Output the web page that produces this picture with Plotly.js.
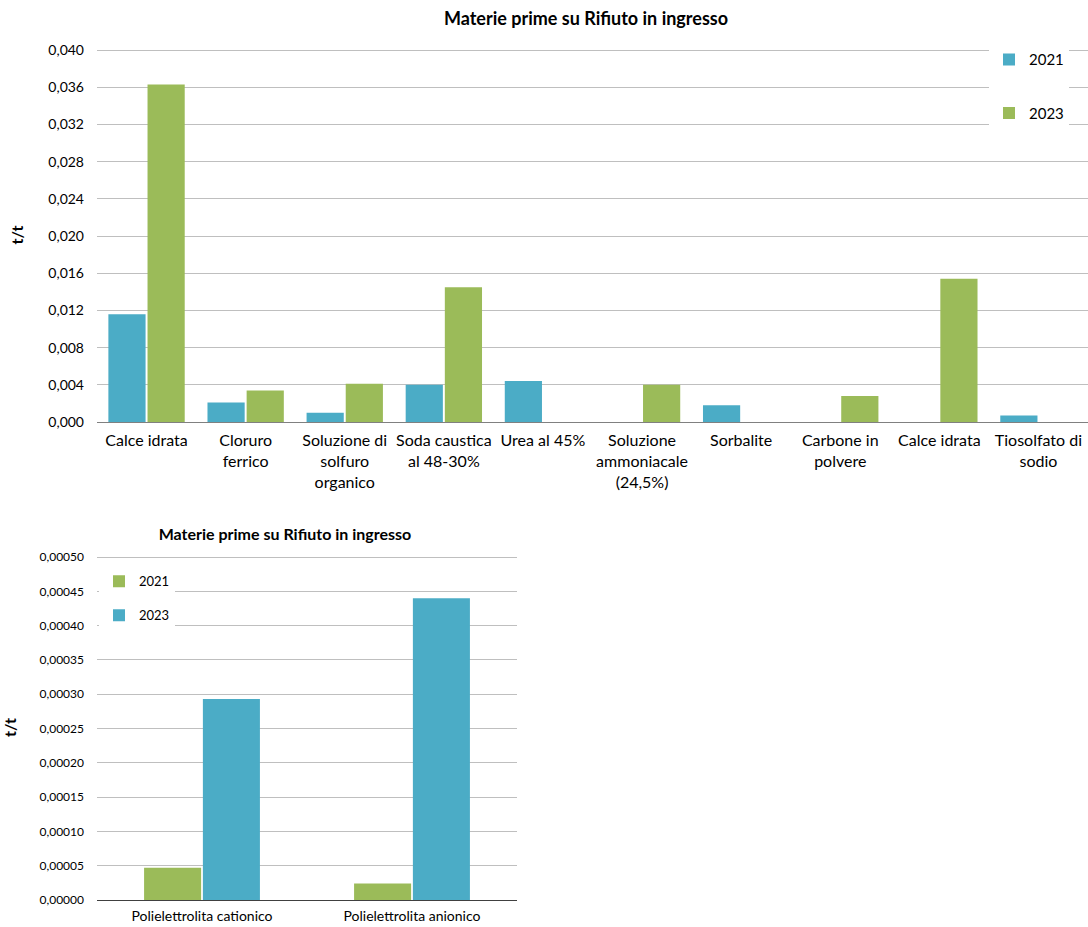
<!DOCTYPE html>
<html>
<head>
<meta charset="utf-8">
<script src="https://cdn.plot.ly/plotly-3.0.1.min.js"></script>
<style>
  html, body { margin: 0; padding: 0; background: #fff; }
  #top { position: absolute; left: 0; top: 0; width: 1088px; height: 510px; }
  #bottom { position: absolute; left: 0; top: 510px; width: 530px; height: 417px; }
</style>
</head>
<body>
<div id="top"></div>
<div id="bottom"></div>
<script>
// ---- Top chart data ----
const topCategories = [
  "Calce idrata", "Cloruro<br>ferrico", "Soluzione di<br>solfuro<br>organico",
  "Soda caustica<br>al 48-30%", "Urea al 45%", "Soluzione<br>ammoniacale<br>(24,5%)",
  "Sorbalite", "Carbone in<br>polvere", "Calce idrata", "Tiosolfato di<br>sodio"
];
const top2021 = [0.0116, 0.0021, 0.0010, 0.0040, 0.0044, null, 0.0018, null, null, 0.0007];
const top2023 = [0.0363, 0.0034, 0.0041, 0.0145, null, 0.0040, null, 0.0028, 0.0154, null];
const topTickVals = [0, 0.004, 0.008, 0.012, 0.016, 0.020, 0.024, 0.028, 0.032, 0.036, 0.040];

// ---- Bottom chart data ----
const bottomCategories = ["Polielettrolita cationico", "Polielettrolita anionico"];
const bottom2021 = [0.000047, 0.000024];
const bottom2023 = [0.000293, 0.000440];

const BLUE = "#4BACC6";
const GREEN = "#9BBB59";
const FONT = "Lato, 'Open Sans', sans-serif";

const topIdx = topCategories.map((_, i) => i);

Plotly.newPlot("top", [
  { type: "bar", name: "2021", x: topIdx, y: top2021, marker: { color: BLUE }, legendgroup: "a" },
  { type: "bar", name: "2023", x: topIdx, y: top2023, marker: { color: GREEN }, legendgroup: "b" }
], {
  width: 1088, height: 510,
  margin: { l: 97, r: 0, t: 48, b: 88 },
  paper_bgcolor: "#fff", plot_bgcolor: "#fff",
  font: { family: FONT, size: 14, color: "#000" },
  separators: ",.",
  barmode: "group", bargap: 0.21, bargroupgap: 0.05,
  title: { text: "<b>Materie prime su Rifiuto in ingresso</b>", font: { size: 18, family: FONT, color: "#000" },
           x: 586 / 1088, xanchor: "center", y: 1 - 19 / 510, yanchor: "middle" },
  xaxis: {
    tickmode: "array", tickvals: topIdx, ticktext: topCategories,
    range: [-0.5, topCategories.length - 0.5],
    showline: true, linecolor: "#808080", linewidth: 1, showgrid: false, ticks: "",
    tickfont: { size: 16 }, tickangle: 0, automargin: false, ticklabelstandoff: 4
  },
  yaxis: {
    range: [0, 0.04022], tickvals: topTickVals, tickformat: ".3f",
    showgrid: true, gridcolor: "#BFBFBF", gridwidth: 1, zeroline: false,
    ticklabelstandoff: 12, tickfont: { size: 14 }, automargin: false,
    title: { text: "<b>t/t</b>", font: { size: 16 }, standoff: 20 }
  },
  showlegend: true,
  legend: {
    x: (989 - 97) / 991, xanchor: "left", y: 1.0125, yanchor: "top",
    bgcolor: "#fff", borderwidth: 0, traceorder: "grouped", tracegroupgap: 31,
    itemwidth: 30, font: { size: 15 }
  }
}, { staticPlot: true });

const botIdx = bottomCategories.map((_, i) => i);
Plotly.newPlot("bottom", [
  { type: "bar", name: "2021", x: botIdx, y: bottom2021, marker: { color: GREEN }, legendgroup: "a" },
  { type: "bar", name: "2023", x: botIdx, y: bottom2023, marker: { color: BLUE }, legendgroup: "b" }
], {
  width: 530, height: 417,
  margin: { l: 97, r: 13, t: 45, b: 27 },
  paper_bgcolor: "#fff", plot_bgcolor: "#fff",
  font: { family: FONT, size: 12, color: "#000" },
  separators: ",.",
  barmode: "group", bargap: 0.44, bargroupgap: 0.03,
  title: { text: "<b>Materie prime su Rifiuto in ingresso</b>", font: { size: 16, family: FONT, color: "#000" },
           x: 285 / 530, xanchor: "center", y: 1 - 24 / 417, yanchor: "middle" },
  xaxis: {
    tickmode: "array", tickvals: botIdx, ticktext: bottomCategories,
    range: [-0.5, 1.5],
    showline: true, linecolor: "#404040", linewidth: 1, showgrid: false, ticks: "",
    tickfont: { size: 14 }, automargin: false, ticklabelstandoff: 3
  },
  yaxis: {
    range: [0, 0.000503], dtick: 0.00005, tick0: 0, tickformat: ".5f",
    showgrid: true, gridcolor: "#BFBFBF", gridwidth: 1, zeroline: false,
    ticklabelstandoff: 12, tickfont: { size: 12 }, automargin: false,
    title: { text: "<b>t/t</b>", font: { size: 16 }, standoff: 18 }
  },
  showlegend: true,
  legend: {
    x: (99 - 97) / 420, xanchor: "left", y: 0.967, yanchor: "top",
    bgcolor: "#fff", borderwidth: 0, traceorder: "grouped", tracegroupgap: 14,
    itemwidth: 30, font: { size: 13 }
  }
}, { staticPlot: true });
</script>
</body>
</html>
